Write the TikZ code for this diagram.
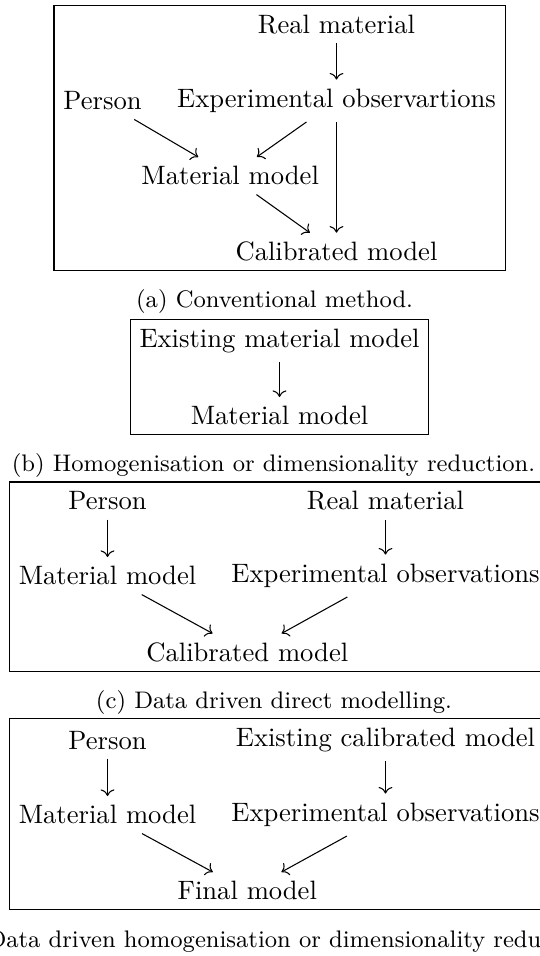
\documentclass[tikz,border=0pt]{standalone}
\usetikzlibrary{arrows.meta,fit}
\begin{document}
\begin{tikzpicture}[x=0.37594pt,y=-0.37594pt,
  lbl/.style={font=\normalsize},
  arr/.style={-{Computer Modern Rightarrow}, line width=0.4pt},
  frame/.style={draw, line width=0.4pt, inner sep=0pt},
  capt/.style={anchor=base, inner sep=0pt, font=\small}]
\clip (0,0) rectangle (540,956);
% (a)
\node[lbl] (aR) at (336.5,24.1) {Real material};
\node[lbl] (aE) at (336.5,100.8) {Experimental observartions};
\node[lbl] (aP) at (102.5,100.8) {Person};
\node[lbl] (aM) at (230.2,175.8) {Material model};
\node[lbl] (aC) at (336.5,251.8) {Calibrated model};
\node[frame, fit=(aR)(aE)(aP)(aM)(aC)] (aF) {};
\draw[arr] (aR) -- (aE);
\draw[arr] (aP) -- (aM);
\draw[arr] (aE) -- (aM);
\draw[arr] (aE) -- (aC);
\draw[arr] (aM) -- (aC);
\node[capt] (aCap) at (274.6,307) {(a) Conventional method.};
% (b)
\node[lbl] (bE) at (279.5,340.6) {Existing material model};
\node[lbl] (bM) at (279.5,415.8) {Material model};
\node[frame, fit=(bE)(bM)] (bF) {};
\draw[arr] (bE) -- (bM);
\node[capt] (bCap) at (273.5,471.7) {(b) Homogenisation or dimensionality reduction.};
% (c)
\node[lbl] (cP) at (107.5,500.9) {Person};
\node[lbl] (cR) at (385.5,500.9) {Real material};
\node[lbl] (cM) at (107.5,575.8) {Material model};
\node[lbl] (cE) at (385.5,575.8) {Experimental observations};
\node[lbl] (cC) at (247.3,652.5) {Calibrated model};
\node[frame, fit=(cP)(cR)(cM)(cE)(cC)] (cF) {};
\draw[arr] (cP) -- (cM);
\draw[arr] (cR) -- (cE);
\draw[arr] (cM) -- (cC);
\draw[arr] (cE) -- (cC);
\node[capt] (cCap) at (274,708.3) {(c) Data driven direct modelling.};
% (d)
\node[lbl] (dP) at (107.5,740.1) {Person};
\node[lbl] (dX) at (385.5,740.1) {Existing calibrated model};
\node[lbl] (dM) at (107.5,814.8) {Material model};
\node[lbl] (dE) at (385.5,814.8) {Experimental observations};
\node[lbl] (dC) at (247.3,890.8) {Final model};
\node[frame, fit=(dP)(dX)(dM)(dE)(dC)] (dF) {};
\draw[arr] (dP) -- (dM);
\draw[arr] (dX) -- (dE);
\draw[arr] (dM) -- (dC);
\draw[arr] (dE) -- (dC);
\node[capt] (dCap) at (274,947) {(d) Data driven homogenisation or dimensionality reduction.};
\end{tikzpicture}
\end{document}
